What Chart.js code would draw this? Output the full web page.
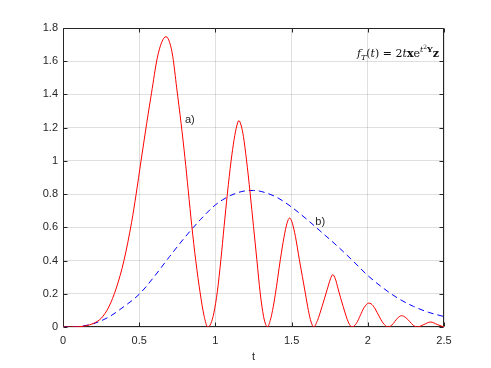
<!DOCTYPE html>
<html>
<head>
<meta charset="UTF-8">
<title>f_T(t)</title>
<script src="https://cdn.jsdelivr.net/npm/chart.js"></script>
<style>
  body { margin: 0; background: #fff; }
  #wrap { width: 491px; height: 368px; }
</style>
</head>
<body>
<div id="wrap"><canvas id="chart" width="491" height="368"></canvas></div>
<script>
// curve a) (red, solid)
const redT = [0, 0.05, 0.1, 0.15, 0.2, 0.25, 0.3, 0.35, 0.4, 0.45, 0.48, 0.512, 0.549, 0.581, 0.618, 0.648, 0.676,
  0.70, 0.72, 0.746, 0.775, 0.80, 0.822, 0.845, 0.871, 0.90, 0.925, 0.95,
  0.97, 0.99, 1.013, 1.036, 1.057, 1.079, 1.103, 1.123, 1.14, 1.154,
  1.17, 1.184, 1.204, 1.228, 1.25, 1.272, 1.294, 1.316, 1.33, 1.342,
  1.36, 1.375, 1.393, 1.426, 1.45, 1.47, 1.487,
  1.505, 1.525, 1.551, 1.59, 1.61, 1.628, 1.645,
  1.67, 1.70, 1.733, 1.755, 1.77, 1.787, 1.805, 1.838, 1.875, 1.897,
  1.925, 1.95, 1.975, 2.007, 2.035, 2.07, 2.10, 2.134,
  2.157, 2.178, 2.20, 2.222, 2.25, 2.274, 2.30, 2.325,
  2.368, 2.412, 2.456, 2.5];
const redY = [0, 0, 0.002, 0.007, 0.022, 0.052, 0.12, 0.235, 0.40, 0.63, 0.80, 1.0, 1.225, 1.41, 1.617, 1.715, 1.748,
  1.712, 1.63, 1.44, 1.225, 1.02, 0.82, 0.61, 0.40, 0.205, 0.07, 0,
  0.02, 0.085, 0.215, 0.405, 0.605, 0.806, 1.0, 1.13, 1.21, 1.243,
  1.21, 1.146, 1.006, 0.806, 0.605, 0.405, 0.204, 0.064, 0.015, 0,
  0.04, 0.1, 0.195, 0.405, 0.54, 0.625, 0.656,
  0.625, 0.545, 0.405, 0.204, 0.10, 0.03, 0,
  0.04, 0.124, 0.224, 0.29, 0.315, 0.29, 0.23, 0.124, 0.024, 0,
  0.022, 0.068, 0.116, 0.144, 0.128, 0.072, 0.024, 0,
  0.011, 0.034, 0.058, 0.068, 0.056, 0.034, 0.009, 0,
  0.015, 0.03, 0.015, 0];

// curve b) (blue, dashed)
const blueT = [0, 0.1, 0.2, 0.3, 0.4, 0.5, 0.6, 0.7, 0.8, 0.9, 1.0, 1.1, 1.2, 1.25, 1.3, 1.4, 1.5, 1.6, 1.7, 1.8, 1.9, 2.0, 2.1, 2.2, 2.3, 2.4, 2.5];
const blueY = [0, 0.003, 0.02, 0.06, 0.123, 0.197, 0.305, 0.425, 0.54, 0.645, 0.735, 0.792, 0.82, 0.822, 0.816, 0.782, 0.722, 0.648, 0.568, 0.487, 0.40, 0.31, 0.235, 0.172, 0.124, 0.088, 0.063];

const xTicks = [0, 0.5, 1, 1.5, 2, 2.5];
const xTickLabels = ['0', '0.5', '1', '1.5', '2', '2.5'];
const yTicks = [0, 0.2, 0.4, 0.6, 0.8, 1, 1.2, 1.4, 1.6, 1.8];
const yTickLabels = ['0', '0.2', '0.4', '0.6', '0.8', '1', '1.2', '1.4', '1.6', '1.8'];

const axisColor = '#262626';
const gridColor = 'rgba(38,38,38,0.15)';
const tickFont = { family: '"Liberation Sans", Arial, sans-serif', size: 11 };

const frame = {
  id: 'frame',
  beforeDatasetsDraw(chart) {
    // axes box with inward ticks on all four sides
    const { ctx, chartArea: a, scales: { x, y } } = chart;
    const L = Math.round(a.left) + 0.5, R = Math.round(a.right) - 0.5;
    const T = Math.round(a.top) + 0.5, B = Math.round(a.bottom) - 0.5;
    ctx.save();
    ctx.strokeStyle = axisColor;
    ctx.lineWidth = 1;
    ctx.beginPath();
    ctx.moveTo(L, T); ctx.lineTo(R, T); ctx.lineTo(R, B); ctx.lineTo(L, B); ctx.closePath();
    xTicks.forEach(v => {
      const px = Math.round(x.getPixelForValue(v)) + 0.5;
      ctx.moveTo(px, B); ctx.lineTo(px, B - 4);
      ctx.moveTo(px, T); ctx.lineTo(px, T + 4);
    });
    yTicks.forEach(v => {
      const py = Math.round(y.getPixelForValue(v)) + 0.5;
      ctx.moveTo(L, py); ctx.lineTo(L + 4, py);
      ctx.moveTo(R, py); ctx.lineTo(R - 4, py);
    });
    ctx.stroke();
    ctx.restore();
  },
  afterDatasetsDraw(chart) {
    const { ctx, scales: { x, y } } = chart;
    ctx.save();
    // curve labels
    ctx.fillStyle = axisColor;
    ctx.font = '11px "Liberation Sans", Arial, sans-serif';
    ctx.textBaseline = 'middle';
    ctx.textAlign = 'left';
    ctx.fillText('a)', x.getPixelForValue(0.80), y.getPixelForValue(1.247));
    ctx.fillText('b)', x.getPixelForValue(1.656), y.getPixelForValue(0.635));

    // formula f_T(t) = 2 t x e^{t^2 Y} z
    const serif = '"DejaVu Serif", "Liberation Serif", serif';
    const big = 11, small = 8, tiny = 6;
    const parts = [
      ['italic', big, 'f', 0],
      ['italic', small, 'T', 2.5],
      ['normal', big, '(', 0],
      ['italic', big, 't', 0],
      ['normal', big, ')', 0],
      ['normal', big, ' = ', 0],
      ['normal', big, '2', 0],
      ['italic', big, 't', 0],
      ['bold', big, 'x', 0],
      ['normal', big, 'e', 0],
      ['italic', small, 't', -5],
      ['normal', tiny, '2', -8],
      ['bold', small, 'Y', -5],
      ['bold', big, 'z', 0]
    ];
    let total = 0;
    parts.forEach(p => {
      ctx.font = p[0] + ' ' + p[1] + 'px ' + serif;
      p.push(ctx.measureText(p[2]).width);
      total += p[4];
    });
    let cx = 439 - total;
    const base = 57;
    ctx.fillStyle = '#111';
    ctx.textBaseline = 'alphabetic';
    parts.forEach(p => {
      ctx.font = p[0] + ' ' + p[1] + 'px ' + serif;
      ctx.fillText(p[2], cx, base + p[3]);
      cx += p[4];
    });
    ctx.restore();
  }
};

new Chart(document.getElementById('chart'), {
  type: 'line',
  data: {
    datasets: [
      {
        label: 'a)',
        data: redT.map((t, i) => ({ x: t, y: redY[i] })),
        borderColor: '#ff0000',
        borderWidth: 1,
        pointRadius: 0,
        cubicInterpolationMode: 'monotone',
        fill: false
      },
      {
        label: 'b)',
        data: blueT.map((t, i) => ({ x: t, y: blueY[i] })),
        borderColor: '#0000ff',
        borderWidth: 1,
        borderDash: [6, 4],
        pointRadius: 0,
        cubicInterpolationMode: 'monotone',
        fill: false
      }
    ]
  },
  options: {
    responsive: false,
    devicePixelRatio: 1,
    animation: false,
    layout: { padding: { left: 0, right: 47, top: 28, bottom: 0 } },
    plugins: { legend: { display: false }, tooltip: { enabled: false } },
    scales: {
      x: {
        type: 'linear',
        min: 0,
        max: 2.5,
        afterBuildTicks: s => { s.ticks = xTicks.map(v => ({ value: v })); },
        afterFit: s => { s.height = 41; },
        ticks: {
          callback: (v, i) => xTickLabels[i],
          font: tickFont,
          color: axisColor,
          padding: 7,
          maxRotation: 0
        },
        grid: { color: gridColor, drawTicks: false },
        border: { display: false },
        title: { display: true, text: 't', font: tickFont, color: axisColor, padding: { top: 0, bottom: 4 } }
      },
      y: {
        min: 0,
        max: 1.8,
        afterBuildTicks: s => { s.ticks = yTicks.map(v => ({ value: v })); },
        afterFit: s => { s.width = 63; },
        ticks: {
          callback: (v, i) => yTickLabels[i],
          font: tickFont,
          color: axisColor,
          padding: 5
        },
        grid: { color: gridColor, drawTicks: false },
        border: { display: false }
      }
    }
  },
  plugins: [frame]
});
</script>
</body>
</html>
